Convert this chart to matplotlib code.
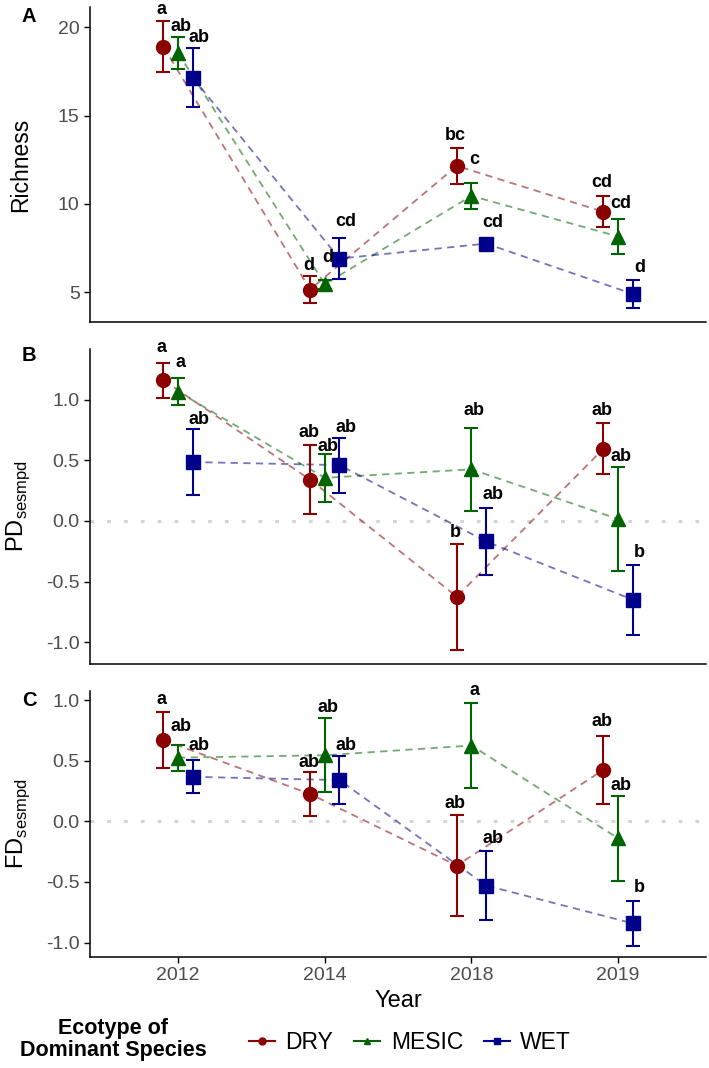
import matplotlib
matplotlib.use('Agg')
import matplotlib.pyplot as plt
from matplotlib.lines import Line2D

plt.rcParams['font.family'] = ['Liberation Sans', 'DejaVu Sans']

years = ['2012', '2014', '2018', '2019']
ecotypes = ['DRY', 'MESIC', 'WET']

# Richness (mean, se)
rich_dry = [18.9, 5.15, 12.15, 9.55]
rich_dry_se = [1.43, 0.74, 1.0, 0.88]
rich_mesic = [18.55, 5.45, 10.45, 8.15]
rich_mesic_se = [0.92, 0.25, 0.72, 1.0]
rich_wet = [17.15, 6.9, 7.75, 4.9]
rich_wet_se = [1.68, 1.18, 0.2, 0.77]

# PD sesmpd
pd_dry = [1.16, 0.34, -0.625, 0.595]
pd_dry_se = [0.143, 0.287, 0.437, 0.21]
pd_mesic = [1.065, 0.355, 0.425, 0.015]
pd_mesic_se = [0.11, 0.198, 0.344, 0.43]
pd_wet = [0.485, 0.46, -0.17, -0.65]
pd_wet_se = [0.273, 0.227, 0.279, 0.287]

# FD sesmpd
fd_dry = [0.67, 0.225, -0.365, 0.425]
fd_dry_se = [0.234, 0.18, 0.416, 0.28]
fd_mesic = [0.525, 0.545, 0.625, -0.14]
fd_mesic_se = [0.108, 0.306, 0.349, 0.352]
fd_wet = [0.367, 0.34, -0.53, -0.842]
fd_wet_se = [0.135, 0.2, 0.285, 0.184]

# significance letters and the height they are written at
rich_let_dry = ['a', 'd', 'bc', 'cd']
rich_let_mesic = ['ab', 'd', 'c', 'cd']
rich_let_wet = ['ab', 'cd', 'cd', 'd']
rich_let_y_dry = [21.03, 6.52, 13.86, 11.2]
rich_let_y_mesic = [20.06, 6.99, 12.51, 10.04]
rich_let_y_wet = [19.4, 8.99, 8.95, 6.37]

pd_let_dry = ['a', 'ab', 'b', 'ab']
pd_let_mesic = ['a', 'ab', 'ab', 'ab']
pd_let_wet = ['ab', 'ab', 'ab', 'b']
pd_let_y_dry = [1.426, 0.727, -0.098, 0.907]
pd_let_y_mesic = [1.303, 0.617, 0.907, 0.53]
pd_let_y_wet = [0.836, 0.77, 0.216, -0.257]

fd_let_dry = ['a', 'ab', 'ab', 'ab']
fd_let_mesic = ['ab', 'ab', 'a', 'ab']
fd_let_wet = ['ab', 'ab', 'ab', 'b']
fd_let_y_dry = [1.008, 0.481, 0.143, 0.824]
fd_let_y_mesic = [0.783, 0.94, 1.082, 0.299]
fd_let_y_wet = [0.629, 0.629, -0.146, -0.549]

colors = {'DRY': '#8B0000', 'MESIC': '#006400', 'WET': '#00008B'}
markers = {'DRY': 'o', 'MESIC': '^', 'WET': 's'}
dodge = {'DRY': -0.1, 'MESIC': 0.0, 'WET': 0.1}
text_nudge = {'DRY': -0.01, 'MESIC': 0.02, 'WET': 0.045}
tick_grey = '#4D4D4D'


def draw_panel(ax, means, ses, letters, letter_ys, ylim, yticks, yticklabels, zero_line):
    if zero_line:
        ax.axhline(0, color='#D3D3D3', linestyle=(0, (1.2, 4.3)), linewidth=2.2, zorder=0)
    for eco in ecotypes:
        xs = [i + 1 + dodge[eco] for i in range(len(years))]
        # dashed connecting line
        ax.plot(xs, means[eco], color=colors[eco], linestyle=(0, (4, 3)), linewidth=1.3, alpha=0.55, zorder=1)
        ax.errorbar(xs, means[eco], yerr=ses[eco], fmt='none', ecolor=colors[eco], elinewidth=1.5,
                    capsize=5, capthick=1.5, zorder=2)
        ax.plot(xs, means[eco], linestyle='none', marker=markers[eco], markersize=10 if eco != 'WET' else 9.5,
                color=colors[eco], zorder=3)
        for i, (lab, ly) in enumerate(zip(letters[eco], letter_ys[eco])):
            ax.text(xs[i] + text_nudge[eco], ly, lab, ha='center', va='center', fontsize=13,
                    fontweight='bold', color='black', zorder=4)
    ax.set_xlim(0.4, 4.6)
    ax.set_ylim(*ylim)
    ax.set_yticks(yticks)
    ax.set_yticklabels(yticklabels)
    ax.spines['top'].set_visible(False)
    ax.spines['right'].set_visible(False)
    ax.spines['left'].set_linewidth(1.1)
    ax.spines['bottom'].set_linewidth(1.1)
    ax.tick_params(axis='y', labelsize=14, labelcolor=tick_grey, length=4, width=1.0)


fig = plt.figure(figsize=(7.09, 10.68), dpi=100)

ax_a = fig.add_axes([0.127, 0.6985, 0.869, 0.295])
ax_b = fig.add_axes([0.127, 0.3783, 0.869, 0.295])
ax_c = fig.add_axes([0.127, 0.1040, 0.869, 0.249])

draw_panel(ax_a,
           {'DRY': rich_dry, 'MESIC': rich_mesic, 'WET': rich_wet},
           {'DRY': rich_dry_se, 'MESIC': rich_mesic_se, 'WET': rich_wet_se},
           {'DRY': rich_let_dry, 'MESIC': rich_let_mesic, 'WET': rich_let_wet},
           {'DRY': rich_let_y_dry, 'MESIC': rich_let_y_mesic, 'WET': rich_let_y_wet},
           (3.31, 21.15), [5, 10, 15, 20], ['5', '10', '15', '20'], False)
draw_panel(ax_b,
           {'DRY': pd_dry, 'MESIC': pd_mesic, 'WET': pd_wet},
           {'DRY': pd_dry_se, 'MESIC': pd_mesic_se, 'WET': pd_wet_se},
           {'DRY': pd_let_dry, 'MESIC': pd_let_mesic, 'WET': pd_let_wet},
           {'DRY': pd_let_y_dry, 'MESIC': pd_let_y_mesic, 'WET': pd_let_y_wet},
           (-1.18, 1.418), [-1, -0.5, 0, 0.5, 1], ['-1.0', '-0.5', '0.0', '0.5', '1.0'], True)
draw_panel(ax_c,
           {'DRY': fd_dry, 'MESIC': fd_mesic, 'WET': fd_wet},
           {'DRY': fd_dry_se, 'MESIC': fd_mesic_se, 'WET': fd_wet_se},
           {'DRY': fd_let_dry, 'MESIC': fd_let_mesic, 'WET': fd_let_wet},
           {'DRY': fd_let_y_dry, 'MESIC': fd_let_y_mesic, 'WET': fd_let_y_wet},
           (-1.119, 1.075), [-1, -0.5, 0, 0.5, 1], ['-1.0', '-0.5', '0.0', '0.5', '1.0'], True)

# only the bottom panel gets year ticks
for ax in (ax_a, ax_b):
    ax.set_xticks([])
ax_c.set_xticks(range(1, len(years) + 1))
ax_c.set_xticklabels(years)
ax_c.tick_params(axis='x', labelsize=14, labelcolor=tick_grey, length=4, width=1.0)
ax_c.set_xlabel('Year', fontsize=17, labelpad=4)

ax_a.set_ylabel('Richness', fontsize=16.5)
ax_b.set_ylabel(r'PD$_{\mathregular{sesmpd}}$', fontsize=17)
ax_c.set_ylabel(r'FD$_{\mathregular{sesmpd}}$', fontsize=17)
for ax in (ax_a, ax_b, ax_c):
    ax.yaxis.set_label_coords(-0.094, 0.5)

# panel letters
fig.text(0.041, 0.985, 'A', fontsize=14.5, fontweight='bold', ha='center', va='center')
fig.text(0.041, 0.667, 'B', fontsize=14.5, fontweight='bold', ha='center', va='center')
fig.text(0.041, 0.344, 'C', fontsize=14.5, fontweight='bold', ha='center', va='center')

# legend
fig.text(0.16, 0.0265, 'Ecotype of\nDominant Species', fontsize=15.5, fontweight='bold',
         ha='center', va='center', multialignment='center', linespacing=1.05)
handles = [Line2D([0], [0], color=colors[e], marker=markers[e], markersize=5, linewidth=1.5) for e in ecotypes]
fig.legend(handles, ecotypes, loc='center left', bbox_to_anchor=(0.322, 0.0235), ncol=3, frameon=False,
           fontsize=16.5, handlelength=1.15, handletextpad=0.45, columnspacing=0.9)

fig.savefig('out.png', dpi=100)
